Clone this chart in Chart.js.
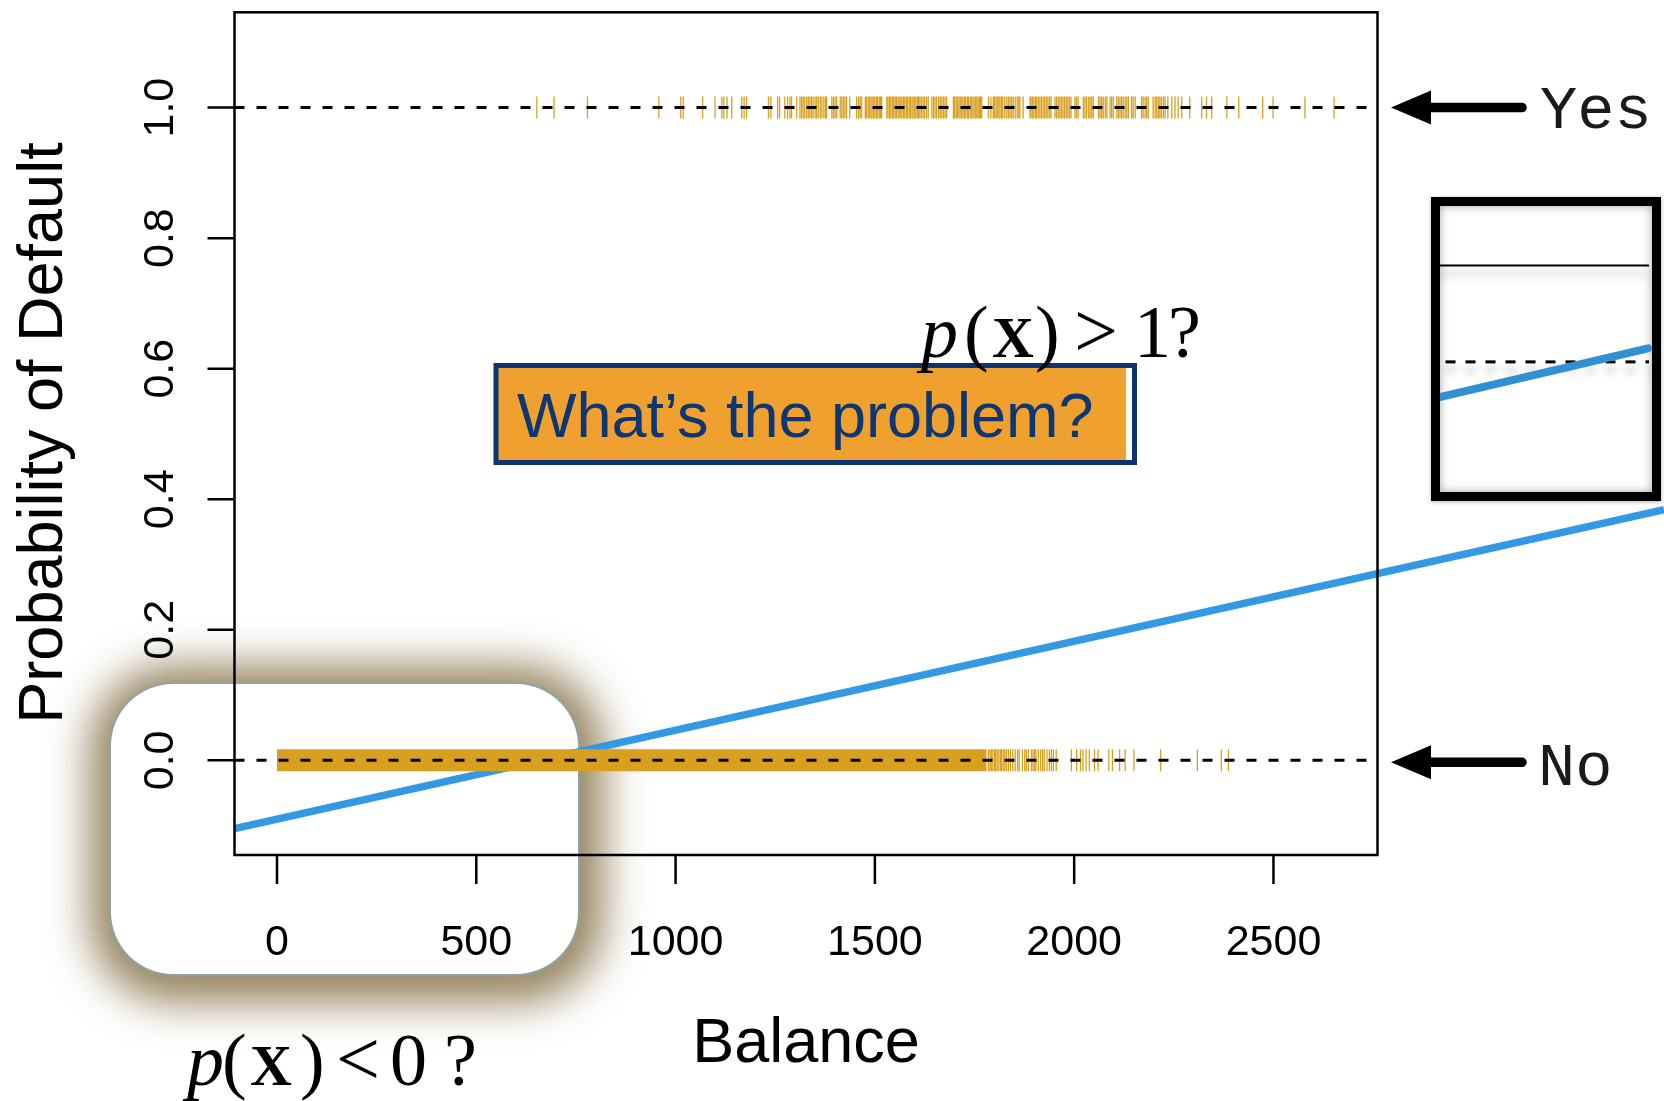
<!DOCTYPE html>
<html><head><meta charset="utf-8">
<script src="https://cdn.jsdelivr.net/npm/chart.js@4.4.1/dist/chart.umd.min.js"></script>
<style>
html,body{margin:0;padding:0;background:#fff;}
#wrap{position:relative;width:1664px;height:1101px;overflow:hidden;background:#fff;}
#glow{position:absolute;left:111px;top:684px;width:467px;height:290px;border-radius:62px;background:#fff;
  box-shadow:0 0 2px 2px rgba(140,165,165,0.9), 2px 5px 42px 24px rgba(146,126,88,0.95);box-sizing:border-box;}
#main{position:absolute;left:0;top:0;}
#insetFrame{position:absolute;left:1431px;top:197px;width:230px;height:304px;border:9px solid #000;box-sizing:border-box;
  box-shadow:inset 0 0 10px rgba(0,0,0,0.35), 0 1px 4px rgba(0,0,0,0.3);background:#fff;}
#inset{position:absolute;left:1440px;top:206px;}
</style></head>
<body><div id="wrap">
<div id="glow"></div>
<canvas id="main" width="1664" height="1101"></canvas>
<div id="insetFrame"></div>
<canvas id="inset" width="212" height="286"></canvas>
</div>
<script>
// ---------------- data ----------------
const xTickValues = [0, 500, 1000, 1500, 2000, 2500];
const xTickLabels = ['0', '500', '1000', '1500', '2000', '2500'];
const yTickValues = [0, 0.2, 0.4, 0.6, 0.8, 1.0];
const yTickLabels = ['0.0', '0.2', '0.4', '0.6', '0.8', '1.0'];
const balanceRange = [-106.6, 2761];
const probRange = [-0.145, 1.146];
const referenceLevels = [0, 1];

// fitted linear regression line (extends beyond the plot)
const fitBalance = [-106.6, 3480];
const fitProb = [-0.1045, 0.384];

// rug: balances of defaulters (Yes, y = 1)
const defaultYesBalance = [652, 695, 779, 958, 1013, 1019, 1068, 1099, 1116, 1121, 1129, 1141, 1166, 1172, 1178,
  1233, 1239, 1256, 1261, 1274, 1281, 1287, 1291, 1304, 1312, 1316, 1320, 1324, 1329, 1333, 1337, 1341, 1345,
  1350, 1354, 1358, 1363, 1367, 1372, 1376, 1379, 1392, 1396, 1400, 1404, 1413, 1417, 1421, 1425, 1429, 1437,
  1454, 1459, 1463, 1467, 1476, 1479, 1483, 1486, 1490, 1493, 1497, 1500, 1504, 1507, 1511, 1514, 1517,
  1530, 1533, 1537, 1540, 1544, 1547, 1551, 1554, 1558, 1561, 1565, 1568, 1572, 1575, 1579, 1582, 1586, 1589,
  1593, 1596, 1600, 1603, 1607, 1610, 1613, 1617, 1621, 1625, 1630, 1634, 1643, 1647, 1651, 1655, 1660, 1664,
  1668, 1672, 1676, 1680, 1697, 1700, 1704, 1707, 1711, 1714, 1718, 1721, 1725, 1728, 1732, 1735, 1739, 1742,
  1746, 1749, 1753, 1756, 1759, 1762, 1765, 1768, 1785, 1791, 1797, 1800, 1804, 1807, 1811, 1814, 1818, 1821,
  1826, 1831, 1835, 1839, 1843, 1847, 1852, 1857, 1861, 1864, 1872, 1889, 1892, 1896, 1899, 1903, 1906, 1910,
  1914, 1918, 1922, 1926, 1930, 1934, 1938, 1942, 1952, 1956, 1960, 1964, 1968, 1972, 1976, 1980, 1984, 1988,
  1992, 2002, 2006, 2010, 2023, 2027, 2031, 2036, 2040, 2044, 2048, 2061, 2065, 2069, 2073, 2078, 2082, 2090,
  2094, 2098, 2107, 2111, 2115, 2119, 2123, 2128, 2132, 2136, 2144, 2148, 2153, 2169, 2173, 2178, 2182, 2186,
  2198, 2203, 2207, 2211, 2215, 2219, 2224, 2228, 2235, 2245, 2253, 2261, 2270, 2290, 2320, 2332, 2345, 2383,
  2413, 2473, 2499, 2579, 2652];

// rug: non-defaulters (No, y = 0): dense continuous range, then individual ticks
const defaultNoDenseRange = [0, 1780];
const defaultNoBalance = [1785, 1789, 1792, 1796, 1800, 1803, 1807, 1811, 1815, 1818, 1822, 1826, 1830, 1835,
  1840, 1846, 1852, 1858, 1862, 1870, 1876, 1880, 1885, 1893, 1897, 1901, 1904, 1910, 1916, 1921, 1925, 1932,
  1938, 1943, 1948, 1955, 1993, 2006, 2016, 2022, 2030, 2038, 2051, 2060, 2087, 2096, 2114, 2128, 2150, 2217,
  2309, 2369, 2387];

// inset (magnified view)
const insetSolidX = [0, 0.986], insetSolidY = 0.792;
const insetDashX = [0.026, 0.986], insetDashY = 0.455;
const insetBlueX = [0.003, 0.981], insetBlueY = [0.3325, 0.5025];

// ---------------- styles ----------------
const GOLD = '#D9A020';
const BLUE = '#3399E2';
const SANS = '"Liberation Sans", Arial, Helvetica, sans-serif';
const SERIF = '"Liberation Serif", "Times New Roman", serif';
const MONO = '"Liberation Mono", "Courier New", monospace';

const decoPlugin = {
  id: 'deco',
  afterDatasetsDraw(chart) {
    const { ctx, chartArea: a, scales: { x, y } } = chart;
    ctx.save();
    ctx.strokeStyle = '#000';
    ctx.lineWidth = 2.5;
    ctx.strokeRect(a.left, a.top, a.right - a.left, a.bottom - a.top);
    ctx.beginPath();
    xTickValues.forEach(v => { const px = x.getPixelForValue(v); ctx.moveTo(px, a.bottom); ctx.lineTo(px, a.bottom + 29); });
    yTickValues.forEach(v => { const py = y.getPixelForValue(v); ctx.moveTo(a.left, py); ctx.lineTo(a.left - 27, py); });
    ctx.stroke();

    ctx.fillStyle = '#000';
    ctx.font = '43px ' + SANS;
    ctx.textAlign = 'center';
    ctx.textBaseline = 'alphabetic';
    xTickValues.forEach((v, i) => ctx.fillText(xTickLabels[i], x.getPixelForValue(v), a.bottom + 100));
    yTickValues.forEach((v, i) => {
      ctx.save(); ctx.translate(a.left - 62, y.getPixelForValue(v)); ctx.rotate(-Math.PI / 2);
      ctx.fillText(yTickLabels[i], 0, 0); ctx.restore();
    });
    // axis titles
    ctx.font = '63px ' + SANS;
    ctx.fillText('Balance', (a.left + a.right) / 2, 1062);
    ctx.save(); ctx.translate(62, 433); ctx.rotate(-Math.PI / 2);
    ctx.font = '63px ' + SANS;
    ctx.fillText('Probability of Default', 0, 0); ctx.restore();
    ctx.restore();
  },
  afterDraw(chart) {
    const { ctx, scales: { y } } = chart;
    ctx.save();
    // "What's the problem?" box
    ctx.fillStyle = '#EFA02F';
    ctx.fillRect(494, 364, 632, 100);
    ctx.fillStyle = '#fff';
    ctx.fillRect(1126, 364, 7, 100);
    ctx.strokeStyle = '#0B3571';
    ctx.lineWidth = 5;
    ctx.strokeRect(496, 365.5, 638.5, 97);
    ctx.fillStyle = '#0C3674';
    ctx.font = '63px ' + SANS;
    ctx.textAlign = 'left';
    ctx.textBaseline = 'alphabetic';
    ctx.fillText('What\u2019s the problem?', 517, 437);

    // math annotations
    function mathText(x0, base, sym, num, offs) {
      ctx.fillStyle = '#000';
      ctx.textAlign = 'left';
      ctx.font = 'italic 74px ' + SERIF; ctx.fillText('p', x0 + offs[0], base);
      ctx.font = '74px ' + SERIF; ctx.fillText('(', x0 + offs[1], base);
      ctx.font = 'bold 58px ' + SERIF; ctx.fillText('X', x0 + offs[2], base);
      ctx.font = '74px ' + SERIF; ctx.fillText(')', x0 + offs[3], base);
      ctx.font = '78px ' + SERIF; ctx.fillText(sym, x0 + offs[4], base);
      ctx.font = '74px ' + SERIF; ctx.fillText(num, x0 + offs[5], base);
      ctx.fillText('?', x0 + offs[6], base);
    }
    mathText(912, 357, '>', '1', [9, 52, 80, 123, 162, 222, 256]);
    mathText(180, 1085, '<', '0', [7, 42, 70, 120, 156, 210, 264]);

    // arrows and Yes / No labels
    function arrow(py) {
      ctx.fillStyle = '#000'; ctx.strokeStyle = '#000';
      ctx.lineWidth = 9.5; ctx.lineCap = 'round';
      ctx.beginPath(); ctx.moveTo(1420, py); ctx.lineTo(1522, py); ctx.stroke();
      ctx.beginPath(); ctx.moveTo(1391, py); ctx.lineTo(1431, py - 17); ctx.lineTo(1431, py + 17); ctx.closePath(); ctx.fill();
    }
    arrow(y.getPixelForValue(1));
    arrow(y.getPixelForValue(0) + 2);
    ctx.fillStyle = '#1a1a1a';
    ctx.font = '62px ' + MONO;
    ctx.textAlign = 'left';
    ctx.fillText('Yes', 1540, 128);
    ctx.fillText('No', 1538, 785);
    ctx.restore();
  }
};

const pts = (xs, ys) => xs.map((v, i) => ({ x: v, y: Array.isArray(ys) ? ys[i] : ys }));

new Chart(document.getElementById('main'), {
  type: 'scatter',
  data: {
    datasets: [
      { type: 'line', data: pts(balanceRange, referenceLevels[0]), borderColor: '#000', borderWidth: 3,
        borderDash: [10, 12], pointRadius: 0, order: 0 },
      { type: 'line', data: pts(balanceRange, referenceLevels[1]), borderColor: '#000', borderWidth: 3,
        borderDash: [10, 12], pointRadius: 0, order: 0 },
      { type: 'line', data: pts(defaultNoDenseRange, referenceLevels[0]), borderColor: GOLD, borderWidth: 22,
        borderCapStyle: 'butt', pointRadius: 0, order: 1 },
      { data: pts(defaultNoBalance, referenceLevels[0]), pointStyle: 'line', pointRotation: 90, pointRadius: 11,
        pointBorderWidth: 1.3, pointBorderColor: GOLD, pointBackgroundColor: GOLD, showLine: false, order: 1 },
      { data: pts(defaultYesBalance, referenceLevels[1]), pointStyle: 'line', pointRotation: 90, pointRadius: 11,
        pointBorderWidth: 1.3, pointBorderColor: GOLD, pointBackgroundColor: GOLD, showLine: false, order: 1 },
      { type: 'line', data: pts(fitBalance, fitProb), borderColor: BLUE, borderWidth: 7.5, pointRadius: 0,
        clip: false, order: 2 }
    ]
  },
  options: {
    responsive: false, animation: false, devicePixelRatio: 1, events: [],
    layout: { padding: { left: 234.5, top: 10.6, right: 286.5, bottom: 246 } },
    plugins: { legend: { display: false }, tooltip: { enabled: false } },
    scales: {
      x: { type: 'linear', min: balanceRange[0], max: balanceRange[1], display: false },
      y: { type: 'linear', min: probRange[0], max: probRange[1], display: false }
    }
  },
  plugins: [decoPlugin]
});

const insetShadow = {
  id: 'insetShadow',
  beforeDatasetDraw(chart, args) {
    const ctx = chart.ctx; ctx.save();
    if (args.index < 2) { ctx.shadowColor = 'rgba(0,0,0,0.35)'; ctx.shadowBlur = 8; ctx.shadowOffsetY = 8; }
  },
  afterDatasetDraw(chart) { chart.ctx.restore(); }
};

new Chart(document.getElementById('inset'), {
  type: 'line',
  data: {
    datasets: [
      { data: pts(insetSolidX, insetSolidY), borderColor: '#000', borderWidth: 2, pointRadius: 0, order: 1 },
      { data: pts(insetDashX, insetDashY), borderColor: '#000', borderWidth: 3, borderDash: [10, 10], pointRadius: 0, order: 1 },
      { data: pts(insetBlueX, insetBlueY), borderColor: '#3190D2', borderWidth: 8, borderCapStyle: 'round', pointRadius: 0, order: 0, clip: false }
    ]
  },
  options: {
    responsive: false, animation: false, devicePixelRatio: 1, events: [],
    layout: { padding: 0 },
    plugins: { legend: { display: false }, tooltip: { enabled: false } },
    scales: {
      x: { type: 'linear', min: 0, max: 1, display: false },
      y: { type: 'linear', min: 0, max: 1, display: false }
    }
  },
  plugins: [insetShadow]
});
</script>
</body></html>
